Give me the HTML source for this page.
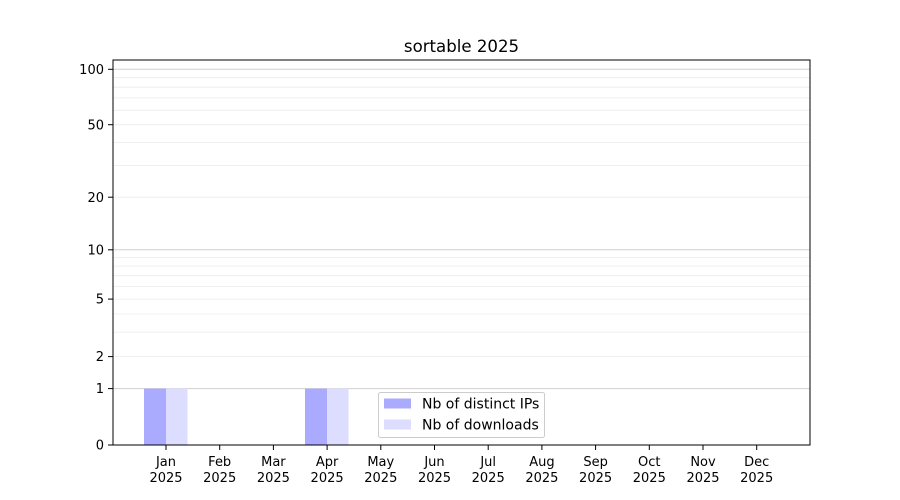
<!DOCTYPE html>
<html><head><meta charset="utf-8"><style>body{margin:0;background:#fff}svg{display:block}text{font-family:"DejaVu Sans","Liberation Sans",sans-serif;fill:#000}</style></head>
<body>
<svg width="900" height="500" viewBox="0 0 900 500" xmlns="http://www.w3.org/2000/svg">
<rect width="900" height="500" fill="#fff"/>
<g stroke="#ebebeb" stroke-width="0.8">
<line x1="113" x2="810" y1="356.6" y2="356.6"/>
<line x1="113" x2="810" y1="332.1" y2="332.1"/>
<line x1="113" x2="810" y1="314" y2="314"/>
<line x1="113" x2="810" y1="299.1" y2="299.1"/>
<line x1="113" x2="810" y1="286.5" y2="286.5"/>
<line x1="113" x2="810" y1="275.7" y2="275.7"/>
<line x1="113" x2="810" y1="266.1" y2="266.1"/>
<line x1="113" x2="810" y1="257.5" y2="257.5"/>
<line x1="113" x2="810" y1="197.2" y2="197.2"/>
<line x1="113" x2="810" y1="165.4" y2="165.4"/>
<line x1="113" x2="810" y1="142.5" y2="142.5"/>
<line x1="113" x2="810" y1="124.7" y2="124.7"/>
<line x1="113" x2="810" y1="110.2" y2="110.2"/>
<line x1="113" x2="810" y1="97.9" y2="97.9"/>
<line x1="113" x2="810" y1="87.2" y2="87.2"/>
<line x1="113" x2="810" y1="77.7" y2="77.7"/>
</g>
<g stroke="#d0d0d0" stroke-width="1">
<line x1="113" x2="810" y1="388.6" y2="388.6"/>
<line x1="113" x2="810" y1="249.8" y2="249.8"/>
<line x1="113" x2="810" y1="69.3" y2="69.3"/>
</g>
<g>
<rect x="144" y="388.6" width="22" height="56.4" fill="#aaaaff"/>
<rect x="166" y="388.6" width="21.5" height="56.4" fill="#ddddff"/>
<rect x="305" y="388.6" width="22" height="56.4" fill="#aaaaff"/>
<rect x="327" y="388.6" width="21.5" height="56.4" fill="#ddddff"/>
</g>
<rect x="113" y="60" width="697" height="385" fill="none" stroke="#000" stroke-width="1"/>
<g stroke="#000" stroke-width="1">
<line x1="108" x2="113" y1="445" y2="445"/>
<line x1="108" x2="113" y1="388.6" y2="388.6"/>
<line x1="108" x2="113" y1="356.6" y2="356.6"/>
<line x1="108" x2="113" y1="299.1" y2="299.1"/>
<line x1="108" x2="113" y1="249.8" y2="249.8"/>
<line x1="108" x2="113" y1="197.2" y2="197.2"/>
<line x1="108" x2="113" y1="124.7" y2="124.7"/>
<line x1="108" x2="113" y1="69.3" y2="69.3"/>
</g>
<g font-size="13" text-anchor="end">
<text x="104" y="449.5">0</text>
<text x="104" y="393">1</text>
<text x="104" y="361">2</text>
<text x="104" y="303.5">5</text>
<text x="104" y="254.5">10</text>
<text x="104" y="202">20</text>
<text x="104" y="129.5">50</text>
<text x="104" y="74">100</text>
</g>
<g stroke="#000" stroke-width="1">
<line x1="166" x2="166" y1="445" y2="450"/><line x1="219.7" x2="219.7" y1="445" y2="450"/><line x1="273.4" x2="273.4" y1="445" y2="450"/><line x1="327.1" x2="327.1" y1="445" y2="450"/><line x1="380.8" x2="380.8" y1="445" y2="450"/><line x1="434.5" x2="434.5" y1="445" y2="450"/><line x1="488.2" x2="488.2" y1="445" y2="450"/><line x1="541.9" x2="541.9" y1="445" y2="450"/><line x1="595.6" x2="595.6" y1="445" y2="450"/><line x1="649.3" x2="649.3" y1="445" y2="450"/><line x1="703" x2="703" y1="445" y2="450"/><line x1="756.7" x2="756.7" y1="445" y2="450"/>
</g>
<g font-size="13" text-anchor="middle">
<text x="166" y="466">Jan</text><text x="166" y="482">2025</text>
<text x="219.7" y="466">Feb</text><text x="219.7" y="482">2025</text>
<text x="273.4" y="466">Mar</text><text x="273.4" y="482">2025</text>
<text x="327.1" y="466">Apr</text><text x="327.1" y="482">2025</text>
<text x="380.8" y="466">May</text><text x="380.8" y="482">2025</text>
<text x="434.5" y="466">Jun</text><text x="434.5" y="482">2025</text>
<text x="488.2" y="466">Jul</text><text x="488.2" y="482">2025</text>
<text x="541.9" y="466">Aug</text><text x="541.9" y="482">2025</text>
<text x="595.6" y="466">Sep</text><text x="595.6" y="482">2025</text>
<text x="649.3" y="466">Oct</text><text x="649.3" y="482">2025</text>
<text x="703" y="466">Nov</text><text x="703" y="482">2025</text>
<text x="756.7" y="466">Dec</text><text x="756.7" y="482">2025</text>
</g>
<text x="461.5" y="52" font-size="16.6" text-anchor="middle">sortable 2025</text>
<rect x="378.5" y="392.5" width="166" height="45" rx="2" fill="#fff" fill-opacity="0.8" stroke="#cccccc"/>
<rect x="384" y="398.5" width="27" height="10" fill="#aaaaff"/>
<rect x="384" y="419.5" width="27" height="10" fill="#ddddff"/>
<text x="422" y="408.5" font-size="14">Nb of distinct IPs</text>
<text x="422" y="429.5" font-size="14">Nb of downloads</text>
</svg>
</body></html>
